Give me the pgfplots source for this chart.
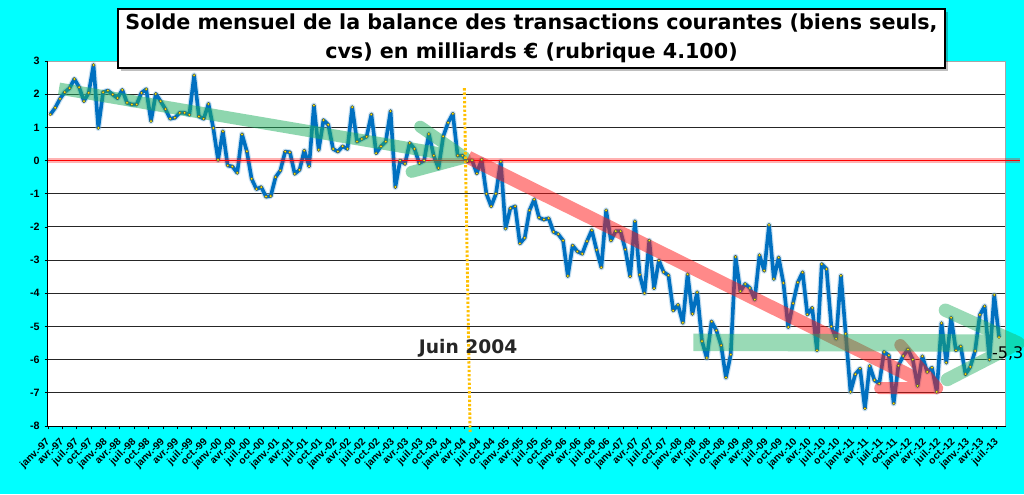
\documentclass[border=0pt]{standalone}
\usepackage{fontspec}
\setmainfont{DejaVu Sans}
\newfontfamily\arialf{Liberation Sans}
\usepackage{pgfplots}
\pgfplotsset{compat=1.18}
\usepackage{pgfplotstable}
\definecolor{bg}{RGB}{0,255,255}
\definecolor{serie}{RGB}{0,112,192}
\definecolor{orangedot}{RGB}{255,192,0}
\definecolor{arrgreen}{RGB}{30,175,95}
\definecolor{arrred}{RGB}{255,20,20}
\pgfplotstableread{
v
1.39
1.59
1.86
2.06
2.18
2.46
2.21
1.79
2.04
2.88
0.98
2.06
2.11
1.99
1.88
2.13
1.74
1.69
1.69
2.04
2.15
1.19
2.01
1.79
1.55
1.26
1.29
1.44
1.44
1.38
2.57
1.33
1.26
1.71
0.98
0.02
0.88
-0.15
-0.18
-0.37
0.79
0.28
-0.55
-0.86
-0.80
-1.09
-1.07
-0.50
-0.30
0.27
0.25
-0.40
-0.28
0.30
-0.17
1.66
0.32
1.22
1.08
0.35
0.27
0.43
0.35
1.61
0.57
0.65
0.72
1.39
0.22
0.43
0.57
1.49
-0.80
0.00
-0.10
0.53
0.35
-0.08
0.00
0.80
0.15
-0.23
0.73
1.14
1.41
0.15
0.15
-0.02
0.01
-0.39
0.03
-1.00
-1.38
-1.00
-0.03
-2.05
-1.44
-1.38
-2.50
-2.33
-1.50
-1.17
-1.72
-1.78
-1.74
-2.15
-2.22
-2.41
-3.48
-2.56
-2.74
-2.81
-2.43
-2.10
-2.69
-3.22
-1.50
-2.41
-2.13
-2.13
-2.68
-3.49
-1.83
-3.44
-4.00
-2.41
-3.85
-3.01
-3.36
-3.46
-4.52
-4.35
-4.89
-3.43
-4.62
-3.97
-5.44
-5.95
-4.85
-5.12
-5.57
-6.54
-5.85
-2.90
-3.94
-3.72
-3.84
-4.19
-2.85
-3.32
-1.94
-3.57
-2.92
-3.69
-5.02
-4.30
-3.67
-3.37
-4.64
-4.44
-5.72
-3.12
-3.27
-5.00
-5.37
-3.47
-5.22
-6.97
-6.44
-6.27
-7.47
-6.19
-6.62
-6.72
-5.77
-5.87
-7.32
-6.18
-5.89
-5.69
-6.00
-6.79
-5.90
-6.37
-6.24
-6.97
-4.90
-6.09
-4.74
-5.72
-5.60
-6.44
-6.22
-5.74
-4.65
-4.39
-6.00
-4.05
-5.32
}\soldetable

\begin{document}
\begin{tikzpicture}
\fill[bg] (0pt,0pt) rectangle (768pt,370.5pt);
\begin{axis}[
  at={(36pt,51pt)}, anchor=south west,
  scale only axis, width=718.3pt, height=273.75pt,
  xmin=-0.5, xmax=199.4, ymin=-8, ymax=3,
  clip=false,
  axis background/.style={fill=white},
  axis x line*=bottom, axis y line*=left,
  axis line style={black, line width=0.75pt},
  xtick={-0.5,2.5,...,197.5},
  xticklabels={janv.-97,avr.-97,juil.-97,oct.-97,janv.-98,avr.-98,juil.-98,oct.-98,janv.-99,avr.-99,juil.-99,oct.-99,janv.-00,avr.-00,juil.-00,oct.-00,janv.-01,avr.-01,juil.-01,oct.-01,janv.-02,avr.-02,juil.-02,oct.-02,janv.-03,avr.-03,juil.-03,oct.-03,janv.-04,avr.-04,juil.-04,oct.-04,janv.-05,avr.-05,juil.-05,oct.-05,janv.-06,avr.-06,juil.-06,oct.-06,janv.-07,avr.-07,juil.-07,oct.-07,janv.-08,avr.-08,juil.-08,oct.-08,janv.-09,avr.-09,juil.-09,oct.-09,janv.-10,avr.-10,juil.-10,oct.-10,janv.-11,avr.-11,juil.-11,oct.-11,janv.-12,avr.-12,juil.-12,oct.-12,janv.-13,avr.-13,juil.-13},
  ytick={-8,-7,...,3},
  yticklabels={-8,-7,-6,-5,-4,-3,-2,-1,0,1,2,3},
  tick align=outside,
  major tick length=2.6pt,
  tick style={black, line width=0.6pt},
  ymajorgrids,
  grid style={black!85, line width=0.7pt},
  xticklabel style={font=\arialf\bfseries\fontsize{7.6}{8}\selectfont, yshift=-5.5pt, xshift=-2.4pt, rotate=45, anchor=north east, inner sep=0pt},
  yticklabel style={font=\arialf\bfseries\fontsize{8}{9}\selectfont, inner sep=1pt, xshift=-2.5pt},
]
% plot area top and right border
\draw[black!35, line width=0.75pt] (rel axis cs:0,1) -- (rel axis cs:1,1) -- (rel axis cs:1,0);
% series
\addplot[serie!45, line width=4.4pt, opacity=0.45, no marks, line join=round] table[x expr=\coordindex, y=v] {\soldetable};
\addplot[serie, line width=2.7pt, line join=round, mark=*, mark size=1.15pt,
  mark options={fill=yellow, draw=black!70, line width=0.3pt}] table[x expr=\coordindex, y=v] {\soldetable};
% zero line
\draw[red, line width=4pt, opacity=0.3] (axis cs:-0.5,0) -- (axis cs:202.4,0);
\draw[red, line width=0.9pt] (axis cs:-0.5,0) -- (axis cs:202.4,0);
% green arrow 1997-2004
\begin{scope}[transparency group, opacity=0.5]
\draw[arrgreen, line width=9pt] (axis cs:1.8,2.17) -- (axis cs:86.5,0.09);
\draw[arrgreen, line width=9pt, line cap=round, line join=round] (axis cs:77.2,1.02) -- (axis cs:86.5,0.09) -- (axis cs:75.4,-0.34);
\end{scope}
% red arrow 2004-2012
\begin{scope}[transparency group, opacity=0.5]
\draw[arrred, line width=10pt] (axis cs:87.2,0.10) -- (axis cs:184.5,-6.84);
\draw[arrred, line width=9pt, line cap=round, line join=round] (axis cs:177.4,-5.56) -- (axis cs:185.1,-6.86) -- (axis cs:173.2,-6.86);
\end{scope}
% green horizontal arrow
\begin{scope}[transparency group, opacity=0.45]
\draw[arrgreen, line width=13pt] (axis cs:134.2,-5.48) -- (axis cs:201.5,-5.50);
\draw[arrgreen, line width=10pt, line cap=round, line join=round] (axis cs:186.8,-4.51) -- (axis cs:202.0,-5.50) -- (axis cs:187.2,-6.6);
\end{scope}
% Juin 2004 marker
\draw[orangedot, line width=2.2pt, dash pattern=on 1.8pt off 1.4pt] (axis cs:86.4,2.18) -- (axis cs:87.6,-8.18);
\node[font=\bfseries\fontsize{14}{17}\selectfont, text=black!85] at (axis cs:87.2,-5.66) {Juin 2004};
\node[anchor=west, font=\fontsize{12}{14}\selectfont, inner sep=0pt] at (axis cs:196.5,-5.82) {-5,3};
\end{axis}
% title box
\fill[black, opacity=0.25] (90.75pt,317.25pt) rectangle (711pt,361.5pt);
\filldraw[fill=white, draw=black, line width=0.8pt] (88.5pt,319.5pt) rectangle (708.75pt,363.75pt);
\node[anchor=base, font=\bfseries\fontsize{15.5}{18}\selectfont, inner sep=0pt] at (398.6pt,348.3pt) {Solde mensuel de la balance des transactions courantes (biens seuls,};
\node[anchor=base, font=\bfseries\fontsize{15.5}{18}\selectfont, inner sep=0pt] at (398.6pt,326.5pt) {cvs) en milliards € (rubrique 4.100)};
\pgfresetboundingbox
\path[use as bounding box] (0pt,0pt) rectangle (768pt,370.5pt);
\end{tikzpicture}
\end{document}
